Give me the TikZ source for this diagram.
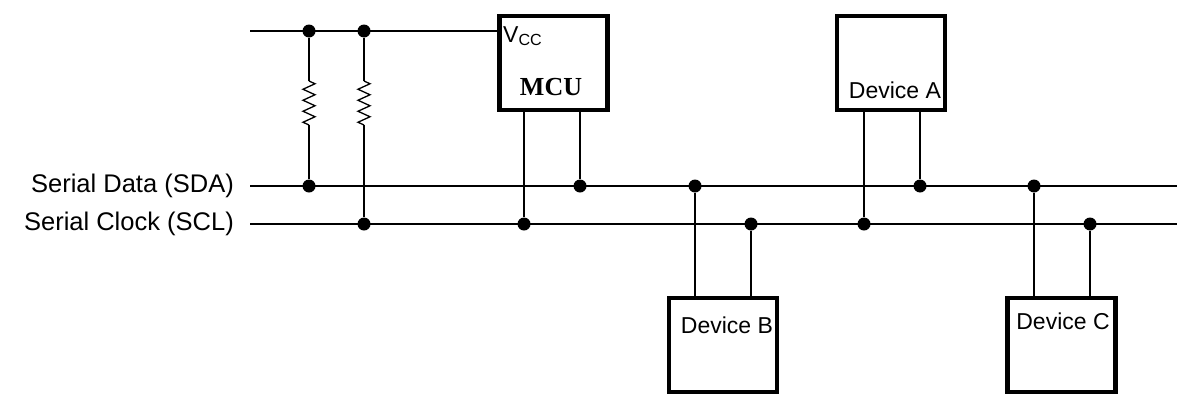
\documentclass[tikz,border=0pt]{standalone}
\usepackage{fontspec}
\setmainfont{Liberation Sans}
\newfontfamily\serifb{Liberation Serif}
\usetikzlibrary{decorations.pathmorphing}
\begin{document}
\begin{tikzpicture}[x=1pt,y=-1pt,
  wire/.style={line width=1.6pt},
  box/.style={draw,line width=4.5pt,minimum width=108pt,minimum height=94pt,inner sep=0pt},
  dot/.style={circle,fill,inner sep=0pt,minimum size=13pt},
  res/.style={line width=1.3pt,decorate,decoration={zigzag,segment length=11pt,amplitude=6pt}},
  lbl/.style={font=\fontsize{23}{27}\selectfont},
  side/.style={font=\fontsize{25.5}{30}\selectfont,anchor=east,inner sep=0pt}]
\useasboundingbox (0,0) rectangle (1185,410);
\node[box] (mcu) at (553.5,63) {};
\node[box] (da) at (891,63) {};
\node[box] (db) at (723,345) {};
\node[box] (dc) at (1061.5,345) {};
\node[lbl,anchor=north west,inner sep=0pt] (vcc) at (503,26) {V\textsubscript{CC}};
\node[font=\serifb\bfseries\fontsize{26}{30}\selectfont] (mcut) at (551,87) {MCU};
\node[lbl] (dat) at (895,90) {Device A};
\node[lbl] (dbt) at (727,325) {Device B};
\node[lbl] (dct) at (1063,321) {Device C};
\node[side] (sda) at (234,186) {Serial Data (SDA)};
\node[side] (scl) at (234,224) {Serial Clock (SCL)};
\coordinate (t0) at (250,31);
\coordinate (s0) at (250,186); \coordinate (s1) at (1177,186);
\coordinate (c0) at (250,224); \coordinate (c1) at (1177,224);
\draw[wire] (t0) -- (mcu.west |- t0);
\draw[wire] (s0) -- (s1);
\draw[wire] (c0) -- (c1);
\node[dot] (r1t) at (309,31) {}; \node[dot] (r2t) at (364,31) {};
\node[dot] (r1b) at (309,186) {}; \node[dot] (r2b) at (364,224) {};
\coordinate (r1a) at (309,81); \coordinate (r1z) at (309,125);
\coordinate (r2a) at (364,81); \coordinate (r2z) at (364,125);
\draw[wire] (r1t) -- (r1a); \draw[res] (r1a) -- (r1z); \draw[wire] (r1z) -- (r1b);
\draw[wire] (r2t) -- (r2a); \draw[res] (r2a) -- (r2z); \draw[wire] (r2z) -- (r2b);
\node[dot] (m1) at (524,224) {}; \node[dot] (m2) at (580,186) {};
\draw[wire] (mcu.south -| m1) -- (m1); \draw[wire] (mcu.south -| m2) -- (m2);
\node[dot] (a1) at (864,224) {}; \node[dot] (a2) at (920,186) {};
\draw[wire] (da.south -| a1) -- (a1); \draw[wire] (da.south -| a2) -- (a2);
\node[dot] (b1) at (695,186) {}; \node[dot] (b2) at (751,224) {};
\draw[wire] (b1) -- (db.north -| b1); \draw[wire] (b2) -- (db.north -| b2);
\node[dot] (c1d) at (1034,186) {}; \node[dot] (c2d) at (1090,224) {};
\draw[wire] (c1d) -- (dc.north -| c1d); \draw[wire] (c2d) -- (dc.north -| c2d);
\end{tikzpicture}
\end{document}
